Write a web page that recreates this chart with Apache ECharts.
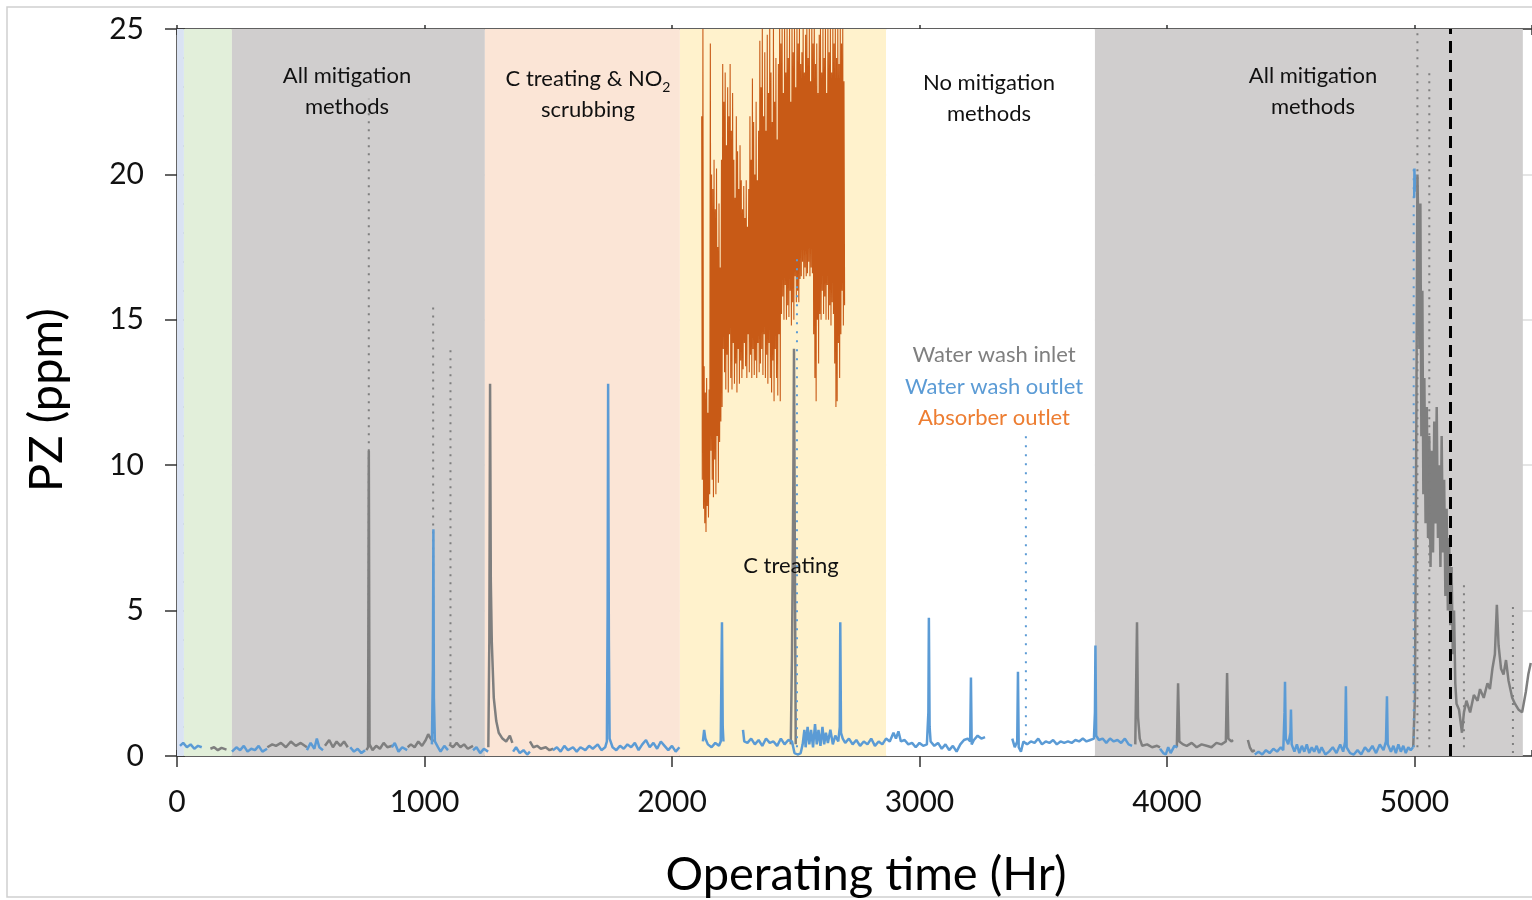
<!DOCTYPE html>
<html>
<head>
<meta charset="utf-8">
<script src="https://cdn.jsdelivr.net/npm/echarts@6/dist/echarts.min.js"></script>
<style>
  html, body { margin: 0; padding: 0; background: #fff; }
  #main { width: 1532px; height: 900px; }
</style>
</head>
<body>
<div id="main"></div>
<script>
// phase boundaries along operating time (Hr)
var phaseBreaks = [0, 28, 222, 1244, 2032, 2865, 3709, 5438];

// water wash inlet, segments of [hr, ppm]
var inletSegments = [
  [[135,0.25],[150,0.3],[165,0.2],[180,0.28],[200,0.22]],
  [[365,0.3],[385,0.4],[400,0.35],[420,0.45],[440,0.3],[460,0.5],[480,0.35],[500,0.45],[525,0.3]],
  [[598,0.35],[615,0.55],[630,0.3],[645,0.5],[660,0.35],[675,0.5],[690,0.3]],
  [[765,0.2],[772,0.3],[775,10.5],[778,0.4],[790,0.2],[805,0.35],[820,0.25],[835,0.45],[850,0.3],[870,0.35]],
  [[932,0.3],[945,0.4],[960,0.3],[975,0.5],[990,0.35],[1005,0.55],[1015,0.75],[1025,0.6],[1035,0.5]],
  [[1100,0.4],[1115,0.3],[1130,0.45],[1145,0.3],[1160,0.4],[1175,0.25],[1196,0.35]],
  [[1258,0.3],[1262,4],[1265,12.8],[1268,6],[1272,3.9],[1280,2],[1290,1.2],[1300,0.8],[1315,0.6],[1330,0.5],[1345,0.7],[1355,0.45]],
  [[1426,0.5],[1440,0.3],[1455,0.35],[1470,0.25],[1490,0.3],[1505,0.2],[1520,0.25]],
  [[2480,0.4],[2485,3.5],[2490,9],[2493,14],[2497,6],[2500,0.4]],
  [[3872,0.4],[3879,4.6],[3883,1.35],[3890,0.6],[3900,0.35],[3920,0.4],[3940,0.3],[3960,0.35],[3972,0.3]],
  [[4040,0.3],[4045,2.5],[4050,0.5],[4065,0.4],[4080,0.35],[4100,0.45],[4120,0.3],[4140,0.4],[4160,0.35],[4180,0.3],[4200,0.45],[4220,0.4],[4238,0.5],[4243,2.85],[4248,0.6],[4260,0.5],[4267,0.55]],
  [[4327,0.55],[4335,0.3],[4345,0.15],[4355,0.2]],
  [[4995,0.3],[5002,2],[5008,12],[5012,20],[5016,18],[5020,14],[5024,19],[5028,11],[5032,16],[5036,9],[5040,13],[5045,8],[5050,12],[5055,7.5],[5060,11],[5065,6.5],[5070,10.5],[5075,7],[5080,11.5],[5085,8],[5090,12],[5095,7.5],[5100,10],[5105,6.5],[5110,11],[5115,7],[5120,9.5],[5125,5.5],[5130,8.5],[5135,5],[5140,7.5],[5145,4.5],[5150,6.5],[5155,3.5],[5160,5],[5165,2.5],[5170,1.8],[5180,1.6],[5192,0.8],[5200,1.5],[5210,1.9],[5225,1.5],[5240,2.1],[5255,1.9],[5265,2.3],[5280,2.0],[5295,2.5],[5305,2.3],[5315,3.0],[5325,3.5],[5333,5.2],[5340,3.8],[5350,3.0],[5360,2.8],[5370,3.3],[5380,2.6],[5395,2.0],[5406,1.8],[5420,1.6],[5435,1.5],[5450,2.2],[5460,2.8],[5470,3.2]]
];

// water wash outlet, segments of [hr, ppm]
var outletSegments = [
  [[12,0.35],[25,0.45],[40,0.3],[55,0.4],[70,0.25],[85,0.35],[100,0.3]],
  [[222,0.15],[240,0.3],[255,0.2],[270,0.35],[285,0.15],[300,0.25],[315,0.2],[330,0.35],[345,0.15],[364,0.25]],
  [[525,0.2],[540,0.45],[555,0.25],[565,0.6],[575,0.3],[590,0.2]],
  [[700,0.3],[715,0.15],[730,0.25],[745,0.1],[760,0.2]],
  [[868,0.3],[880,0.45],[895,0.15],[910,0.3],[930,0.2]],
  [[1030,0.4],[1034,3],[1036,7.8],[1038,2],[1042,0.5],[1055,0.3],[1065,0.15],[1080,0.35],[1095,0.2]],
  [[1196,0.2],[1210,0.3],[1225,0.1],[1240,0.25],[1257,0.15]],
  [[1358,0.15],[1370,0.3],[1385,0.1],[1400,0.2],[1415,0.05],[1426,0.15]],
  [[1519,0.2],[1535,0.3],[1550,0.15],[1565,0.35],[1580,0.2],[1600,0.3],[1615,0.15],[1630,0.3],[1650,0.2],[1665,0.35],[1680,0.25],[1700,0.4],[1715,0.2],[1730,0.3],[1737,0.5],[1740,5],[1742,12.8],[1745,4],[1748,0.6],[1760,0.3],[1775,0.2],[1790,0.35],[1805,0.25],[1820,0.4],[1835,0.3],[1850,0.45],[1865,0.2],[1880,0.4],[1895,0.55],[1910,0.3],[1925,0.45],[1940,0.25],[1955,0.5],[1970,0.35],[1985,0.2],[2000,0.35],[2015,0.15],[2030,0.3]],
  [[2125,0.5],[2130,0.9],[2135,0.6],[2145,0.4],[2160,0.3],[2175,0.45],[2190,0.35],[2197,0.5],[2200,3],[2202,4.6],[2205,1],[2208,0.5]],
  [[2287,0.9],[2292,0.5],[2305,0.45],[2320,0.6],[2335,0.4],[2350,0.55],[2365,0.35],[2380,0.6],[2395,0.45],[2410,0.5],[2425,0.35],[2440,0.6],[2455,0.4],[2470,0.55],[2485,0.5],[2495,0.1],[2510,0.05],[2520,0.1],[2528,0.4],[2535,0.9],[2540,0.3],[2548,1.0],[2555,0.4],[2562,0.9],[2570,0.3],[2578,1.1],[2585,0.4],[2592,0.9],[2600,0.35],[2608,1.0],[2615,0.4],[2622,0.8],[2630,0.45],[2640,0.9],[2650,0.4],[2660,0.7],[2672,0.5],[2678,1],[2680,4.6],[2683,0.8],[2690,0.6],[2700,0.45],[2715,0.6],[2730,0.4],[2745,0.55],[2760,0.35],[2775,0.5],[2790,0.4],[2805,0.6],[2820,0.35],[2835,0.5],[2850,0.4],[2865,0.6],[2880,0.5],[2895,0.8],[2905,0.6],[2915,0.85],[2925,0.5],[2940,0.55],[2955,0.4],[2970,0.45],[2985,0.3],[3000,0.45],[3015,0.35],[3030,0.4],[3036,1.5],[3038,4.75],[3041,1],[3045,0.5],[3060,0.35],[3075,0.45],[3090,0.25],[3105,0.4],[3120,0.2],[3135,0.35],[3150,0.15],[3165,0.4],[3180,0.55],[3195,0.6],[3205,0.5],[3208,2.7],[3211,0.4],[3220,0.55],[3235,0.7],[3250,0.6],[3265,0.65]],
  [[3375,0.6],[3385,0.3],[3395,0.5],[3398,2.9],[3401,0.3],[3410,0.15],[3420,0.5],[3435,0.4],[3450,0.5],[3465,0.45],[3480,0.6],[3495,0.4],[3510,0.5],[3525,0.45],[3540,0.55],[3555,0.4],[3570,0.5],[3585,0.45],[3600,0.5],[3615,0.45],[3630,0.55],[3645,0.5],[3660,0.6],[3675,0.5],[3690,0.55],[3705,0.6],[3709,1.5],[3711,3.8],[3714,0.7],[3725,0.55],[3740,0.6],[3755,0.45],[3770,0.6],[3785,0.5],[3800,0.55],[3815,0.45],[3830,0.6],[3845,0.4],[3859,0.35]],
  [[3972,0.25],[3985,0.1],[3995,0.05],[4005,0.3],[4015,0.1],[4030,0.35],[4042,0.3]],
  [[4355,0.05],[4370,0.15],[4385,0.05],[4400,0.2],[4415,0.1],[4430,0.25],[4445,0.15],[4460,0.3],[4470,0.2],[4475,1.5],[4477,2.55],[4480,0.6],[4490,0.4],[4499,0.8],[4501,1.6],[4504,0.4],[4515,0.15],[4525,0.4],[4535,0.1],[4545,0.35],[4555,0.15],[4565,0.4],[4575,0.1],[4585,0.3],[4595,0.15],[4605,0.35],[4615,0.1],[4625,0.3],[4640,0.05],[4655,0.15],[4670,0.3],[4685,0.1],[4700,0.4],[4712,0.15],[4720,0.5],[4723,2.4],[4726,0.3],[4740,0.1],[4755,0.05],[4770,0.2],[4785,0.05],[4800,0.3],[4815,0.15],[4830,0.35],[4845,0.1],[4860,0.4],[4875,0.2],[4885,0.5],[4889,2.05],[4892,0.4],[4905,0.15],[4915,0.35],[4925,0.1],[4935,0.4],[4945,0.15],[4955,0.35],[4965,0.1],[4975,0.3],[4985,0.2],[4994,0.3]],
  [[4999,19.2],[5000,20.2],[5001,19.4],[5002,20]]
];

// absorber outlet: per-time high / low readings
var absorberTime = [2120,2125,2130,2135,2140,2145,2150,2155,2160,2165,2170,2175,2180,2185,2190,2195,2200,2205,2210,2215,2220,2225,2230,2235,2240,2245,2250,2255,2260,2265,2270,2275,2280,2285,2290,2295,2300,2305,2310,2315,2320,2325,2330,2335,2340,2345,2350,2355,2360,2365,2370,2375,2380,2385,2390,2395,2400,2405,2410,2415,2420,2425,2430,2435,2440,2445,2450,2455,2460,2465,2470,2475,2480,2485,2490,2495,2500,2505,2510,2515,2520,2525,2530,2535,2540,2545,2550,2555,2560,2565,2570,2575,2580,2585,2590,2595,2600,2605,2610,2615,2620,2625,2630,2635,2640,2645,2650,2655,2660,2665,2670,2675,2680,2685,2690,2695];
var absorberHigh = [22,25,13.4,12.5,13.0,11.8,12.6,24.5,20.0,19.5,20.5,18.8,20.2,17.5,19.0,16.8,20.5,23.8,22.5,23.5,21.0,23.0,22.0,23.8,21.5,22.8,20.5,19.2,22.0,20.8,19.5,21.0,19.8,18.8,19.6,18.5,19.8,18.2,19.5,22.0,20.5,23.3,21.8,20.0,22.5,19.8,21.5,24.6,23.0,25.0,22.0,24.2,21.5,24.8,22.8,25.0,23.5,21.8,25.0,22.5,24.0,21.2,23.8,25.0,24.5,25.0,22.8,25.0,23.5,25.0,24.0,25.0,22.5,25.0,24.2,25.0,23.0,25.0,24.5,25.0,23.8,24.2,25.0,23.5,24.8,25.0,24.0,25.0,23.2,25.0,24.5,25.0,23.8,24.5,22.8,24.8,25.0,23.5,25.0,24.0,25.0,22.8,25.0,24.2,25.0,23.5,25.0,24.5,25.0,24.0,25.0,23.8,25.0,24.5,25.0,23.2];
var absorberLow = [9.5,8.5,8.0,7.7,8.6,8.2,9.0,10.5,9.5,8.9,10.2,9.0,11.0,9.4,10.8,11.5,12.0,14.0,13.2,12.6,13.8,12.5,14.5,13.0,12.6,14.2,12.8,13.5,12.5,14.0,12.8,13.6,13.0,13.3,14.2,13.4,13.0,14.5,13.2,13.8,13.0,14.0,13.1,13.6,13.0,14.2,13.2,13.5,14.0,13.1,14.5,13.0,13.8,12.8,14.2,13.0,12.5,13.6,12.2,14.0,13.0,12.4,14.5,12.2,15.2,15.8,15.0,16.2,15.0,15.5,15.1,16.0,14.8,15.6,15.0,16.5,15.6,16.0,15.6,16.4,16.5,17.0,16.4,16.8,16.5,16.6,17.0,16.5,16.8,16.6,14.5,13.0,12.2,15.0,13.5,15.2,15.0,16.0,15.2,15.8,15.0,16.2,15.0,15.5,14.8,15.6,15.2,13.5,12.0,12.2,14.2,13.0,14.5,16.0,14.8,15.5];

// sparse vertical bursts: [hr, base ppm, peak ppm]
var inletBursts = [[775,0.3,22.6],[1035,0.5,15.6],[1105,0.4,14.0],[5012,0.3,25],[5060,0.3,23.5],[5200,0.3,5.9],[5398,0.1,5.3]];
var outletBursts = [[2505,0.3,17.3],[3430,0.4,11.2],[4997,0.3,20.2]];

// end of test marker
var markerTime = 5143;

var phaseColors = ['#dae3f3', '#e2efda', '#d0cece', '#fbe5d6', '#fff2cc', '#ffffff', '#d0cece'];
var GRAY = '#7f7f7f', BLUE = '#5b9bd5', ORANGE = '#c85a16';
var FONT = 'Lato';

var bands = [];
for (var i = 0; i < phaseBreaks.length - 1; i++) {
  bands.push([{ xAxis: phaseBreaks[i], itemStyle: { color: phaseColors[i] } }, { xAxis: phaseBreaks[i + 1] }]);
}

var absorberData = [];
absorberTime.forEach(function (t, k) {
  absorberData.push([t, absorberHigh[k]]);
  absorberData.push([t + 2.5, absorberLow[k]]);
});

var series = [];
// background phases + dashed marker
series.push({
  type: 'line', data: [], silent: true, z: 1,
  markArea: { silent: true, data: bands },
  markLine: {
    silent: true, symbol: ['none', 'none'], label: { show: false },
    lineStyle: { color: '#000', width: 3, type: [12, 7] },
    data: [{ xAxis: markerTime }]
  }
});
inletSegments.forEach(function (seg) {
  series.push({ type: 'line', data: seg, showSymbol: false, z: 3, lineStyle: { color: GRAY, width: 2.5 } });
});
inletBursts.forEach(function (b) {
  series.push({ type: 'line', data: [[b[0], b[1]], [b[0], b[2]]], showSymbol: false, z: 3,
    lineStyle: { color: GRAY, width: 2, type: [2, 6] } });
});
series.push({ type: 'line', data: absorberData, showSymbol: false, z: 4, lineStyle: { color: ORANGE, width: 1.1 } });
outletSegments.forEach(function (seg) {
  series.push({ type: 'line', data: seg, showSymbol: false, z: 5, lineStyle: { color: BLUE, width: 2.5 } });
});
outletBursts.forEach(function (b) {
  series.push({ type: 'line', data: [[b[0], b[1]], [b[0], b[2]]], showSymbol: false, z: 5,
    lineStyle: { color: BLUE, width: 2, type: [2, 7] } });
});

var XMAX = 5475;
var tickLine = { color: '#333', width: 1.5 };
var chart = echarts.init(document.getElementById('main'));
chart.setOption({
  animation: false,
  grid: { left: 177, right: 0, top: 29, bottom: 144 },
  xAxis: [
    { type: 'value', min: 0, max: XMAX, interval: 1000, position: 'bottom',
      axisLine: { show: true, lineStyle: tickLine },
      axisTick: { show: true, inside: false, length: 11, lineStyle: tickLine },
      axisLabel: { fontFamily: FONT, fontSize: 30, color: '#111', margin: 31, showMaxLabel: false,
        formatter: function (v) { return String(v); } },
      splitLine: { show: false } },
    { type: 'value', min: 0, max: XMAX, interval: 200, position: 'bottom',
      axisLine: { show: false }, axisLabel: { show: false }, splitLine: { show: false },
      axisTick: { show: true, inside: true, length: 6, lineStyle: tickLine } },
    { type: 'value', min: 0, max: XMAX, interval: 200, position: 'top',
      axisLine: { show: true, lineStyle: tickLine }, axisLabel: { show: false }, splitLine: { show: false },
      axisTick: { show: true, inside: true, length: 6, lineStyle: tickLine } },
    { type: 'value', min: 0, max: XMAX, interval: 1000, position: 'top',
      axisLine: { show: false }, axisLabel: { show: false }, splitLine: { show: false },
      axisTick: { show: true, inside: false, length: 4, lineStyle: tickLine } }
  ],
  yAxis: [
    { type: 'value', min: 0, max: 25, interval: 5, position: 'left',
      axisLine: { show: true, lineStyle: tickLine },
      axisTick: { show: true, inside: false, length: 12, lineStyle: tickLine },
      axisLabel: { fontFamily: FONT, fontSize: 30, color: '#111', margin: 33 },
      splitLine: { show: true, lineStyle: { color: '#dcdcdc', width: 1.5 } } },
    { type: 'value', min: 0, max: 25, interval: 1, position: 'left',
      axisLine: { show: false }, axisLabel: { show: false }, splitLine: { show: false },
      axisTick: { show: true, inside: true, length: 8, lineStyle: tickLine } }
  ],
  series: series,
  graphic: [
    { type: 'rect', z: 100, silent: true,
      shape: { x: 7, y: 7, width: 1700, height: 890 }, style: { fill: null, stroke: '#d0d0d0', lineWidth: 1.5 } },
    { type: 'text', x: 47, y: 400, rotation: Math.PI / 2, z: 100,
      style: { text: 'PZ (ppm)', font: '47px Lato', fill: '#000', align: 'center', verticalAlign: 'middle' } },
    { type: 'text', x: 866, y: 875, z: 100,
      style: { text: 'Operating time (Hr)', font: '47px Lato', fill: '#000', align: 'center', verticalAlign: 'middle' } },
    { type: 'text', x: 347, y: 91, z: 100,
      style: { text: 'All mitigation\nmethods', font: '22px Lato', lineHeight: 31, fill: '#111', align: 'center', verticalAlign: 'middle' } },
    { type: 'text', x: 588, y: 94, z: 100,
      style: { text: 'C treating & NO{s|2}\nscrubbing', font: '22px Lato', lineHeight: 31, fill: '#111', align: 'center', verticalAlign: 'middle',
        rich: { s: { font: '14px Lato', fill: '#111', verticalAlign: 'bottom', padding: [10, 0, 0, 0] } } } },
    { type: 'text', x: 989, y: 98, z: 100,
      style: { text: 'No mitigation\nmethods', font: '22px Lato', lineHeight: 31, fill: '#111', align: 'center', verticalAlign: 'middle' } },
    { type: 'text', x: 1313, y: 91, z: 100,
      style: { text: 'All mitigation\nmethods', font: '22px Lato', lineHeight: 31, fill: '#111', align: 'center', verticalAlign: 'middle' } },
    { type: 'text', x: 791, y: 566, z: 100,
      style: { text: 'C treating', font: '22px Lato', fill: '#111', align: 'center', verticalAlign: 'middle' } },
    { type: 'text', x: 994, y: 355, z: 100,
      style: { text: 'Water wash inlet', font: '22px Lato', fill: '#7f7f7f', align: 'center', verticalAlign: 'middle' } },
    { type: 'text', x: 994, y: 387, z: 100,
      style: { text: 'Water wash outlet', font: '22px Lato', fill: '#5b9bd5', align: 'center', verticalAlign: 'middle' } },
    { type: 'text', x: 994, y: 418, z: 100,
      style: { text: 'Absorber outlet', font: '22px Lato', fill: '#ed7d31', align: 'center', verticalAlign: 'middle' } }
  ]
});
</script>
</body>
</html>
